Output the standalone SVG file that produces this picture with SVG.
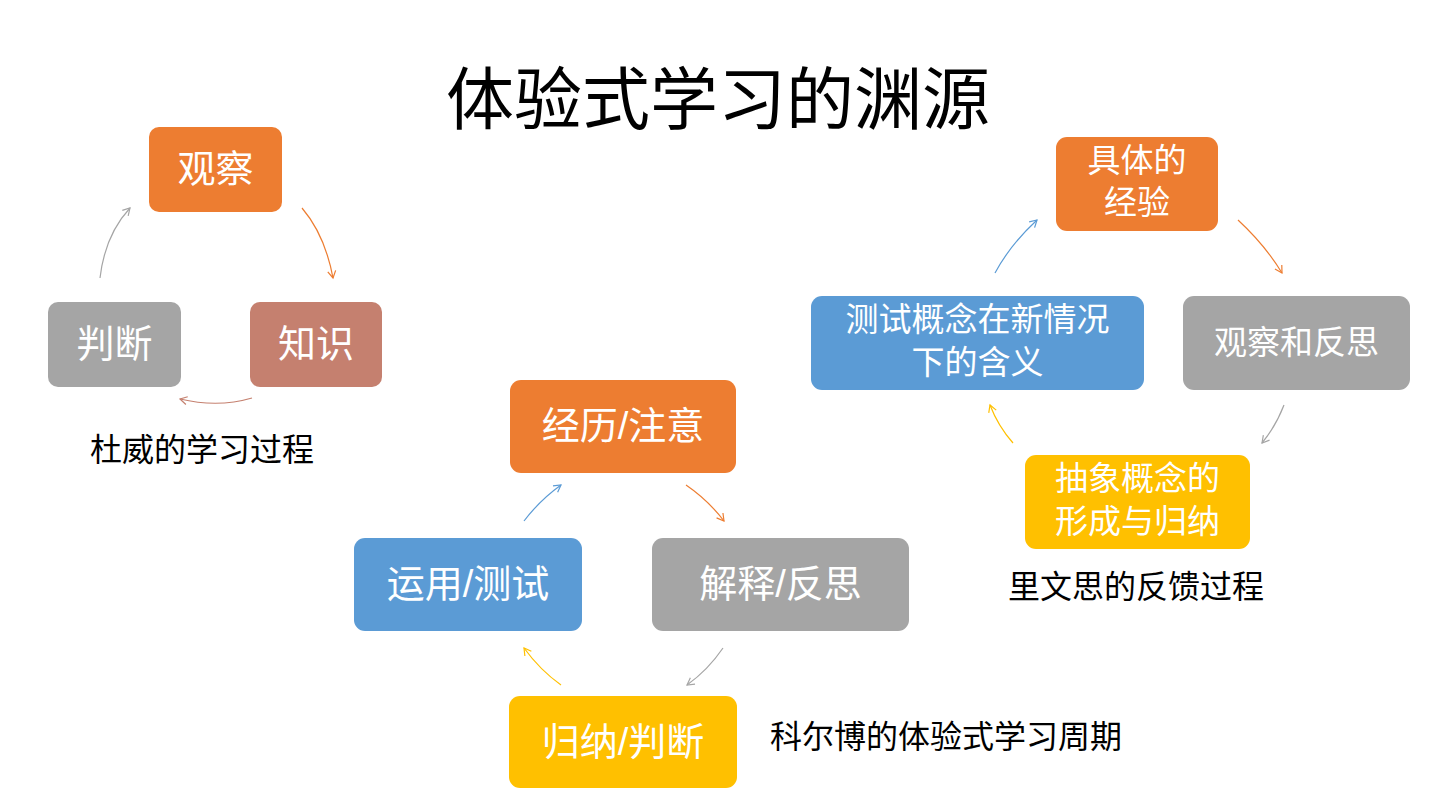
<svg xmlns="http://www.w3.org/2000/svg" width="1440" height="810" viewBox="0 0 1440 810">
<defs>
<style>
text{font-family:"Liberation Sans","Noto Sans CJK SC",sans-serif}
.n{fill:#fff;text-anchor:middle;font-size:38px}
.s{fill:#fff;text-anchor:middle;font-size:33px}
.l{fill:#000;font-size:32px}
.c{fill:none;stroke-width:1.2}
</style>
<marker id="mo" markerWidth="10" markerHeight="10" refX="8" refY="5" orient="auto" markerUnits="userSpaceOnUse"><path d="M1,1 L8,5 L1,9" fill="none" stroke="#ED7D31" stroke-width="1.2"/></marker>
<marker id="mg" markerWidth="10" markerHeight="10" refX="8" refY="5" orient="auto" markerUnits="userSpaceOnUse"><path d="M1,1 L8,5 L1,9" fill="none" stroke="#A5A5A5" stroke-width="1.2"/></marker>
<marker id="my" markerWidth="10" markerHeight="10" refX="8" refY="5" orient="auto" markerUnits="userSpaceOnUse"><path d="M1,1 L8,5 L1,9" fill="none" stroke="#FFC000" stroke-width="1.2"/></marker>
<marker id="mb" markerWidth="10" markerHeight="10" refX="8" refY="5" orient="auto" markerUnits="userSpaceOnUse"><path d="M1,1 L8,5 L1,9" fill="none" stroke="#5B9BD5" stroke-width="1.2"/></marker>
<marker id="mr" markerWidth="10" markerHeight="10" refX="8" refY="5" orient="auto" markerUnits="userSpaceOnUse"><path d="M1,1 L8,5 L1,9" fill="none" stroke="#C5806F" stroke-width="1.2"/></marker>
</defs>
<rect width="1440" height="810" fill="#fff"/>
<text x="718" y="124" text-anchor="middle" font-size="68" fill="#000">体验式学习的渊源</text>

<g id="d1"><rect x="149" y="127" width="133" height="85" rx="10" fill="#ED7D31"/><text class="n" x="215.5" y="182">观察</text></g>
<g id="d2"><rect x="250" y="302" width="132" height="85" rx="10" fill="#C5806F"/><text class="n" x="316" y="357">知识</text></g>
<g id="d3"><rect x="48" y="302" width="133" height="85" rx="10" fill="#A5A5A5"/><text class="n" x="114.5" y="357">判断</text></g>
<text class="l" x="90" y="461">杜威的学习过程</text>

<g id="k1"><rect x="510" y="380" width="226" height="93" rx="11" fill="#ED7D31"/><text class="n" x="623" y="439">经历/注意</text></g>
<g id="k2"><rect x="652" y="538" width="257" height="93" rx="11" fill="#A5A5A5"/><text class="n" x="780.5" y="597">解释/反思</text></g>
<g id="k3"><rect x="509" y="696" width="228" height="92" rx="11" fill="#FFC000"/><text class="n" x="623" y="755">归纳/判断</text></g>
<g id="k4"><rect x="354" y="538" width="228" height="93" rx="11" fill="#5B9BD5"/><text class="n" x="468" y="597">运用/测试</text></g>
<text class="l" x="770" y="748">科尔博的体验式学习周期</text>

<g id="r1"><rect x="1056" y="137" width="162" height="94" rx="11" fill="#ED7D31"/><text class="s" x="1137" y="172">具体的</text><text class="s" x="1137" y="214">经验</text></g>
<g id="r2"><rect x="1183" y="296" width="227" height="94" rx="11" fill="#A5A5A5"/><text class="s" x="1296.5" y="354">观察和反思</text></g>
<g id="r3"><rect x="1025" y="455" width="225" height="94" rx="11" fill="#FFC000"/><text class="s" x="1137.5" y="490">抽象概念的</text><text class="s" x="1137.5" y="533">形成与归纳</text></g>
<g id="r4"><rect x="811" y="296" width="333" height="94" rx="11" fill="#5B9BD5"/><text class="s" x="977.5" y="331">测试概念在新情况</text><text class="s" x="977.5" y="374">下的含义</text></g>
<text class="l" x="1136" y="598" text-anchor="middle">里文思的反馈过程</text>

<g id="connectors">
<path class="c" stroke="#ED7D31" marker-end="url(#mo)" d="M302,208 Q325,235 333,278"/>
<path class="c" stroke="#C5806F" marker-end="url(#mr)" d="M252,398 Q218,408 180,399"/>
<path class="c" stroke="#A5A5A5" marker-end="url(#mg)" d="M100,278 Q105,235 130,208"/>
<path class="c" stroke="#ED7D31" marker-end="url(#mo)" d="M686,485 Q708,500 724,521"/>
<path class="c" stroke="#A5A5A5" marker-end="url(#mg)" d="M723,648 Q708,670 687,685"/>
<path class="c" stroke="#FFC000" marker-end="url(#my)" d="M561,685 Q540,670 524,648"/>
<path class="c" stroke="#5B9BD5" marker-end="url(#mb)" d="M524,521 Q540,500 561,485"/>
<path class="c" stroke="#ED7D31" marker-end="url(#mo)" d="M1238,220 Q1265,245 1282,273"/>
<path class="c" stroke="#A5A5A5" marker-end="url(#mg)" d="M1284,405 Q1276,426 1262,443"/>
<path class="c" stroke="#FFC000" marker-end="url(#my)" d="M1013,443 Q998,426 990,405"/>
<path class="c" stroke="#5B9BD5" marker-end="url(#mb)" d="M995,273 Q1010,245 1037,220"/>
</g>
</svg>
